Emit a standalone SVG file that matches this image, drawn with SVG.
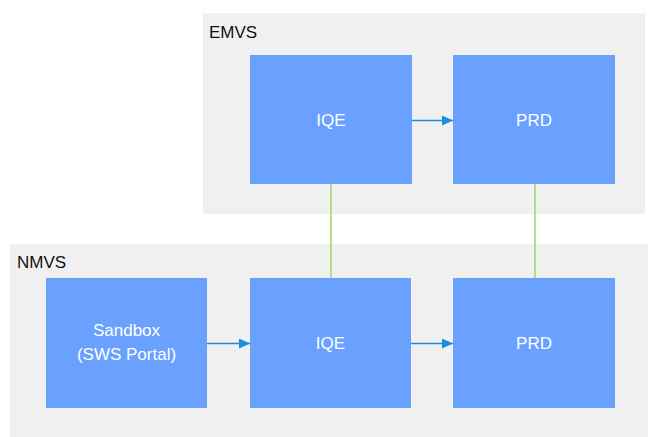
<svg xmlns="http://www.w3.org/2000/svg" width="648" height="437" viewBox="0 0 648 437">
  <style>
    .zone { fill: #f0f0f0; }
    .zone-label { font-family: "Liberation Sans", Arial, sans-serif; font-size: 17px; fill: #111111; }
    .box { fill: #6aa1ff; }
    .box-label { font-family: "Liberation Sans", Arial, sans-serif; font-size: 17px; fill: #ffffff; text-anchor: middle; }
    .flow { stroke: #1a8fe0; stroke-width: 1.5; fill: none; }
    .link { stroke: #9fd46a; stroke-width: 1.5; fill: none; }
  </style>
  <defs>
    <marker id="arrow" markerWidth="11" markerHeight="10" refX="11" refY="5" orient="auto" markerUnits="userSpaceOnUse">
      <path d="M0,0 L11,5 L0,10 Z" fill="#1a8fe0"/>
    </marker>
  </defs>

  <!-- environment zones -->
  <g id="zone-emvs">
    <rect class="zone" x="203" y="13" width="442" height="201"/>
    <text class="zone-label" x="209" y="38">EMVS</text>
  </g>
  <g id="zone-nmvs">
    <rect class="zone" x="10" y="244" width="638" height="193"/>
    <text class="zone-label" x="17" y="268">NMVS</text>
  </g>

  <!-- connectors -->
  <g id="connectors">
    <line class="flow" x1="412" y1="120.5" x2="453" y2="120.5" marker-end="url(#arrow)"/>
    <line class="flow" x1="207" y1="343.5" x2="250" y2="343.5" marker-end="url(#arrow)"/>
    <line class="flow" x1="411" y1="343.5" x2="453" y2="343.5" marker-end="url(#arrow)"/>
    <line class="link" x1="331" y1="184" x2="331" y2="278"/>
    <line class="link" x1="535" y1="184" x2="535" y2="278"/>
  </g>

  <!-- nodes -->
  <g id="emvs-iqe">
    <rect class="box" x="250" y="55" width="162" height="129"/>
    <text class="box-label" x="331" y="126">IQE</text>
  </g>
  <g id="emvs-prd">
    <rect class="box" x="453" y="55" width="162" height="129"/>
    <text class="box-label" x="534" y="126">PRD</text>
  </g>
  <g id="nmvs-sandbox">
    <rect class="box" x="46" y="278" width="161" height="130"/>
    <text class="box-label" x="126.5" y="336">Sandbox</text>
    <text class="box-label" x="126.5" y="360">(SWS Portal)</text>
  </g>
  <g id="nmvs-iqe">
    <rect class="box" x="250" y="278" width="161" height="130"/>
    <text class="box-label" x="330.5" y="349">IQE</text>
  </g>
  <g id="nmvs-prd">
    <rect class="box" x="453" y="278" width="162" height="130"/>
    <text class="box-label" x="534" y="349">PRD</text>
  </g>
</svg>
